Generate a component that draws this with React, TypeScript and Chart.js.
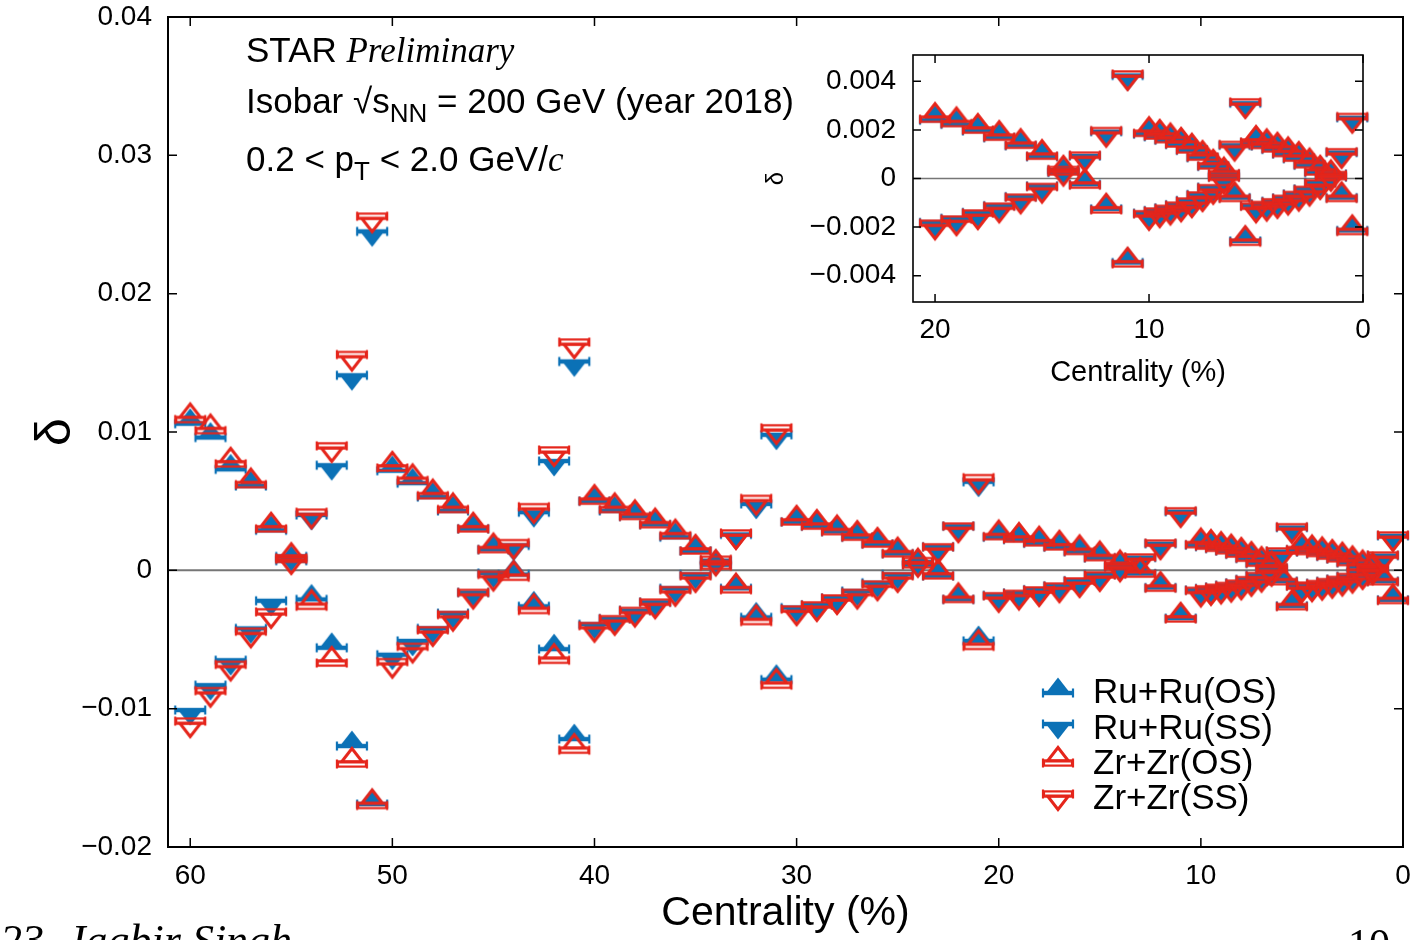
import React, { useEffect, useRef } from 'react';
import { Chart, registerables } from 'chart.js';

Chart.register(...registerables);

const FONT = '"Liberation Sans", Arial, Helvetica, sans-serif';
const SERIF = '"Liberation Serif", "Times New Roman", serif';
const BLUE = '#0b71b6';
const RED = '#e5251b';

// Centrality bins (%)
const centrality = [
  60, 59, 58, 57, 56, 55, 54, 53, 52, 51,
  50, 49, 48, 47, 46, 45, 44, 43, 42, 41,
  40, 39, 38, 37, 36, 35, 34, 33, 32, 31,
  30, 29, 28, 27, 26, 25, 24, 23, 22, 21,
  20, 19, 18, 17, 16, 15, 14, 13, 12, 11,
  10, 9.5, 9, 8.5, 8, 7.5, 7, 6.5, 6, 5.5,
  5, 4.5, 4, 3.5, 3, 2.5, 2, 1.5, 1, 0.5,
];

const ruRuOS = [
  0.0106, 0.0096, 0.0073, 0.0061, 0.0029, 0.0007, -0.0021, -0.0056, -0.0127, -0.0169,
  0.0072, 0.0063, 0.0053, 0.0043, 0.0030, 0.0015, -0.0003, -0.0026, -0.0057, -0.0122,
  0.0050, 0.0043, 0.0039, 0.0033, 0.0024, 0.0014, 0.0004, -0.0013, -0.0034, -0.0079,
  0.0035, 0.0032, 0.0028, 0.0024, 0.0019, 0.0012, 0.0004, -0.0004, -0.0021, -0.0051,
  0.00240, 0.00223, 0.00196, 0.00168, 0.00135, 0.00090, 0.00025, -0.00024, -0.00125, -0.00346,
  0.00183, 0.00172, 0.00158, 0.00140, 0.00116, 0.00086, 0.00050, 0.00018, -0.00079, -0.00257,
  0.00148, 0.00134, 0.00120, 0.00101, 0.00082, 0.00055, 0.00025, 0.00006, -0.00079, -0.00214,
];

const ruRuSS = [
  -0.0101, -0.0083, -0.0065, -0.0042, -0.0022, 0.0010, 0.0040, 0.0076, 0.0141, 0.0245,
  -0.0061, -0.0051, -0.0042, -0.0031, -0.0016, -0.0002, 0.0018, 0.0042, 0.0079, 0.0151,
  -0.0039, -0.0035, -0.0029, -0.0023, -0.0013, -0.0003, 0.0007, 0.0026, 0.0048, 0.0098,
  -0.0027, -0.0025, -0.0020, -0.0015, -0.0009, -0.0003, 0.0006, 0.0017, 0.0032, 0.0064,
  -0.00181, -0.00164, -0.00140, -0.00112, -0.00075, -0.00031, 0.00035, 0.00093, 0.00193, 0.00424,
  -0.00143, -0.00132, -0.00121, -0.00108, -0.00091, -0.00066, -0.00036, 0.00007, 0.00137, 0.00310,
  -0.00112, -0.00105, -0.00094, -0.00080, -0.00064, -0.00043, -0.00016, 0.00018, 0.00107, 0.00250,
];

const zrZrOS = [
  0.0109, 0.0101, 0.0077, 0.0062, 0.0030, 0.0008, -0.0026, -0.0067, -0.0140, -0.0170,
  0.0074, 0.0065, 0.0054, 0.0044, 0.0030, 0.0015, -0.0005, -0.0029, -0.0065, -0.0130,
  0.0050, 0.0044, 0.0039, 0.0033, 0.0025, 0.0014, 0.0003, -0.0014, -0.0037, -0.0083,
  0.0035, 0.0032, 0.0028, 0.0024, 0.0019, 0.0012, 0.0004, -0.0004, -0.0021, -0.0055,
  0.00244, 0.00226, 0.00199, 0.00170, 0.00137, 0.00092, 0.00027, -0.00027, -0.00129, -0.00351,
  0.00186, 0.00175, 0.00160, 0.00142, 0.00118, 0.00088, 0.00052, 0.00020, -0.00082, -0.00262,
  0.00150, 0.00136, 0.00122, 0.00103, 0.00084, 0.00057, 0.00027, 0.00008, -0.00082, -0.00218,
];

const zrZrSS = [
  -0.0109, -0.0087, -0.0068, -0.0044, -0.0030, 0.0009, 0.0042, 0.0090, 0.0156, 0.0256,
  -0.0066, -0.0055, -0.0043, -0.0032, -0.0016, -0.0003, 0.0020, 0.0046, 0.0087, 0.0165,
  -0.0040, -0.0035, -0.0029, -0.0023, -0.0014, -0.0004, 0.0008, 0.0027, 0.0052, 0.0103,
  -0.0028, -0.0025, -0.0020, -0.0016, -0.0010, -0.0004, 0.0007, 0.0017, 0.0032, 0.0067,
  -0.00184, -0.00167, -0.00142, -0.00114, -0.00077, -0.00033, 0.00037, 0.00096, 0.00197, 0.00430,
  -0.00145, -0.00134, -0.00123, -0.00110, -0.00093, -0.00068, -0.00038, 0.00005, 0.00140, 0.00315,
  -0.00114, -0.00107, -0.00096, -0.00082, -0.00066, -0.00045, -0.00018, 0.00016, 0.00110, 0.00255,
];

const mainXTicks = [60, 50, 40, 30, 20, 10, 0];
const mainXTickLabels = ['60', '50', '40', '30', '20', '10', '0'];
const mainYTicks = [-0.02, -0.01, 0, 0.01, 0.02, 0.03, 0.04];
const mainYTickLabels = ['\u22120.02', '\u22120.01', '0', '0.01', '0.02', '0.03', '0.04'];
const insetXTicks = [20, 10, 0];
const insetXTickLabels = ['20', '10', '0'];
const insetYTicks = [-0.004, -0.002, 0, 0.002, 0.004];
const insetYTickLabels = ['\u22120.004', '\u22120.002', '0', '0.002', '0.004'];
const insetMaxCentrality = 20;

const seriesDefs = [
  { label: 'Ru+Ru(OS)', values: ruRuOS, color: BLUE, filled: true, dir: 1, order: 3 },
  { label: 'Ru+Ru(SS)', values: ruRuSS, color: BLUE, filled: true, dir: -1, order: 2 },
  { label: 'Zr+Zr(OS)', values: zrZrOS, color: RED, filled: false, dir: 1, order: 1 },
  { label: 'Zr+Zr(SS)', values: zrZrSS, color: RED, filled: false, dir: -1, order: 0 },
];

function makeGlyph(dir: number, color: string, filled: boolean): HTMLCanvasElement {
  const S = 44;
  const c = document.createElement('canvas');
  c.width = S;
  c.height = S;
  const g = c.getContext('2d') as CanvasRenderingContext2D;
  const cx = S / 2;
  const cy = S / 2;
  g.strokeStyle = color;
  g.fillStyle = color;
  g.lineWidth = 2.2;
  if (filled) g.fillRect(cx - 15, cy - 2.2, 30, 4.4);
  else g.strokeRect(cx - 14, cy - 2.6, 28, 5.2);
  g.beginPath();
  g.moveTo(cx - 15, cy - 4.5);
  g.lineTo(cx - 15, cy + 4.5);
  g.moveTo(cx + 15, cy - 4.5);
  g.lineTo(cx + 15, cy + 4.5);
  g.stroke();
  const baseY = cy - dir * 2;
  const apexY = cy - dir * 15.5;
  g.beginPath();
  g.moveTo(cx - 10.5, baseY);
  g.lineTo(cx + 10.5, baseY);
  g.lineTo(cx, apexY);
  g.closePath();
  if (filled) {
    g.fill();
  } else {
    g.lineWidth = 3;
    g.lineJoin = 'miter';
    g.stroke();
  }
  return c;
}

function GlyphSvg({ dir, color, filled, left, top }: any) {
  const cx = 22;
  const cy = 22;
  const baseY = cy - dir * 2;
  const apexY = cy - dir * 15.5;
  return (
    <svg width={44} height={44} style={{ position: 'absolute', left, top, overflow: 'visible' }}>
      {filled ? (
        <rect x={cx - 15} y={cy - 2.2} width={30} height={4.4} fill={color} />
      ) : (
        <rect x={cx - 14} y={cy - 2.6} width={28} height={5.2} fill="none" stroke={color} strokeWidth={2.2} />
      )}
      <path d={`M${cx - 15} ${cy - 4.5}V${cy + 4.5}M${cx + 15} ${cy - 4.5}V${cy + 4.5}`} stroke={color} strokeWidth={2.2} />
      <polygon
        points={`${cx - 10.5},${baseY} ${cx + 10.5},${baseY} ${cx},${apexY}`}
        fill={filled ? color : 'none'}
        stroke={filled ? 'none' : color}
        strokeWidth={3}
      />
    </svg>
  );
}

const framePlugin = {
  id: 'frame',
  beforeDatasetsDraw(chart: any, _a: any, opts: any) {
    const { ctx, chartArea: a, scales } = chart;
    ctx.save();
    if (opts.fill) {
      ctx.fillStyle = '#ffffff';
      ctx.fillRect(a.left, a.top, a.right - a.left, a.bottom - a.top);
    }
    const y0 = scales.y.getPixelForValue(0);
    ctx.strokeStyle = '#767676';
    ctx.lineWidth = opts.zeroWidth;
    ctx.beginPath();
    ctx.moveTo(a.left, y0);
    ctx.lineTo(a.right, y0);
    ctx.stroke();
    ctx.restore();
  },
  afterDatasetsDraw(chart: any, _a: any, opts: any) {
    const { ctx, chartArea: a, scales } = chart;
    const x = scales.x;
    const y = scales.y;
    const L = opts.tickLength;
    ctx.save();
    ctx.strokeStyle = '#000';
    ctx.lineWidth = opts.tickWidth;
    ctx.beginPath();
    x.ticks.forEach((t: any) => {
      const p = x.getPixelForValue(t.value);
      ctx.moveTo(p, a.bottom);
      ctx.lineTo(p, a.bottom - L);
      ctx.moveTo(p, a.top);
      ctx.lineTo(p, a.top + L);
    });
    y.ticks.forEach((t: any) => {
      const p = y.getPixelForValue(t.value);
      ctx.moveTo(a.left, p);
      ctx.lineTo(a.left + L, p);
      ctx.moveTo(a.right, p);
      ctx.lineTo(a.right - L, p);
    });
    ctx.stroke();
    ctx.lineWidth = opts.lineWidth;
    ctx.strokeRect(a.left, a.top, a.right - a.left, a.bottom - a.top);
    ctx.restore();
  },
};

function zeroPadding(s: any) {
  s.paddingTop = 0;
  s.paddingBottom = 0;
  s.paddingLeft = 0;
  s.paddingRight = 0;
}

function axisOptions(o: any) {
  return {
    x: {
      type: 'linear',
      reverse: true,
      min: o.xMin,
      max: o.xMax,
      afterBuildTicks: (s: any) => {
        s.ticks = o.xTicks.map((v: number) => ({ value: v }));
      },
      afterFit: (s: any) => {
        s.height = o.xHeight;
        zeroPadding(s);
      },
      grid: { display: false, drawTicks: false },
      border: { display: false },
      ticks: {
        autoSkip: false,
        maxRotation: 0,
        minRotation: 0,
        padding: o.xPad,
        color: '#000',
        font: { family: FONT, size: o.tickSize },
        callback: (_v: any, i: number) => o.xLabels[i],
      },
      title: {
        display: true,
        text: 'Centrality (%)',
        color: '#000',
        font: { family: FONT, size: o.xTitleSize },
        padding: { top: 0, bottom: o.xTitlePad },
      },
    },
    y: {
      type: 'linear',
      min: o.yMin,
      max: o.yMax,
      afterBuildTicks: (s: any) => {
        s.ticks = o.yTicks.map((v: number) => ({ value: v }));
      },
      afterFit: (s: any) => {
        s.width = o.yWidth;
        zeroPadding(s);
      },
      grid: { display: false, drawTicks: false },
      border: { display: false },
      ticks: {
        autoSkip: false,
        padding: o.yPad,
        color: '#000',
        font: { family: FONT, size: o.tickSize },
        callback: (_v: any, i: number) => o.yLabels[i],
      },
      title: {
        display: true,
        text: '\u03b4',
        color: '#000',
        font: { family: FONT, size: o.yTitleSize },
        padding: { top: o.yTitlePad, bottom: 0 },
      },
    },
  };
}

const legendRows = [
  { label: 'Ru+Ru(OS)', color: BLUE, filled: true, dir: 1 },
  { label: 'Ru+Ru(SS)', color: BLUE, filled: true, dir: -1 },
  { label: 'Zr+Zr(OS)', color: RED, filled: false, dir: 1 },
  { label: 'Zr+Zr(SS)', color: RED, filled: false, dir: -1 },
];

export default function App() {
  const mainRef = useRef<HTMLCanvasElement>(null);
  const insetRef = useRef<HTMLCanvasElement>(null);

  useEffect(() => {
    const glyphs = seriesDefs.map((s) => makeGlyph(s.dir, s.color, s.filled));
    const mkData = (limit: number) =>
      seriesDefs.map((s, k) => ({
        label: s.label,
        data: centrality.map((c, i) => ({ x: c, y: s.values[i] })).filter((p) => p.x <= limit),
        pointStyle: glyphs[k],
        pointRadius: 16,
        pointHoverRadius: 16,
        showLine: false,
        clip: false,
        order: s.order,
      }));

    const main = new Chart(mainRef.current as HTMLCanvasElement, {
      type: 'scatter',
      data: { datasets: mkData(100) as any },
      options: {
        responsive: false,
        animation: false,
        devicePixelRatio: 1,
        events: [],
        layout: { autoPadding: false, padding: { left: 0, right: 13, top: 17, bottom: 0 } },
        plugins: {
          legend: { display: false },
          tooltip: { enabled: false },
          frame: { tickLength: 9, tickWidth: 1.5, lineWidth: 2, zeroWidth: 2, fill: false },
        } as any,
        scales: axisOptions({
          xMin: 0, xMax: 61.1, xTicks: mainXTicks, xLabels: mainXTickLabels, xHeight: 93, xPad: 12,
          yMin: -0.02, yMax: 0.04, yTicks: mainYTicks, yLabels: mainYTickLabels, yWidth: 168, yPad: 16,
          tickSize: 28, xTitleSize: 41, xTitlePad: 2, yTitleSize: 50, yTitlePad: 26,
        }) as any,
      },
      plugins: [framePlugin],
    });

    const inset = new Chart(insetRef.current as HTMLCanvasElement, {
      type: 'scatter',
      data: { datasets: mkData(insetMaxCentrality) as any },
      options: {
        responsive: false,
        animation: false,
        devicePixelRatio: 1,
        events: [],
        layout: { autoPadding: false, padding: { left: 0, right: 37, top: 17, bottom: 0 } },
        plugins: {
          legend: { display: false },
          tooltip: { enabled: false },
          frame: { tickLength: 8, tickWidth: 1.5, lineWidth: 1.6, zeroWidth: 1.6, fill: true },
        } as any,
        scales: axisOptions({
          xMin: 0, xMax: 21.03, xTicks: insetXTicks, xLabels: insetXTickLabels, xHeight: 98, xPad: 11,
          yMin: -0.00508, yMax: 0.00508, yTicks: insetYTicks, yLabels: insetYTickLabels, yWidth: 173, yPad: 17,
          tickSize: 28, xTitleSize: 29, xTitlePad: 9.6, yTitleSize: 24, yTitlePad: 22,
        }) as any,
      },
      plugins: [framePlugin],
    });

    return () => {
      main.destroy();
      inset.destroy();
    };
  }, []);

  const textLine: React.CSSProperties = {
    position: 'absolute',
    left: 246,
    fontFamily: FONT,
    fontSize: 35,
    lineHeight: '35px',
    whiteSpace: 'nowrap',
    color: '#000',
  };
  const sub: React.CSSProperties = { fontSize: 26, position: 'relative', top: 9 };
  const legendTop = 690.5;
  const legendStep = 35.3;

  return (
    <div
      style={{
        position: 'fixed',
        left: 0,
        top: 0,
        width: 1416,
        height: 940,
        overflow: 'hidden',
        background: '#fff',
      }}
    >
      <canvas
        ref={mainRef}
        width={1416}
        height={940}
        style={{ position: 'absolute', left: 0, top: 0, width: 1416, height: 940 }}
      />
      <canvas
        ref={insetRef}
        width={660}
        height={362}
        style={{ position: 'absolute', left: 740, top: 38, width: 660, height: 362 }}
      />

      <div style={{ ...textLine, top: 32.4 }}>
        STAR <span style={{ fontFamily: SERIF, fontStyle: 'italic' }}>Preliminary</span>
      </div>
      <div style={{ ...textLine, top: 83.4 }}>
        Isobar {'\u221a'}s<span style={sub}>NN</span> = 200 GeV (year 2018)
      </div>
      <div style={{ ...textLine, top: 141.4 }}>
        0.2 &lt; p<span style={sub}>T</span> &lt; 2.0 GeV/
        <span style={{ fontFamily: SERIF, fontStyle: 'italic' }}>c</span>
      </div>

      {legendRows.map((r, i) => {
        const rc = legendTop + i * legendStep;
        const boxCenter = rc + (r.dir === 1 ? 2 : -2);
        return (
          <React.Fragment key={r.label}>
            <GlyphSvg dir={r.dir} color={r.color} filled={r.filled} left={1035.5} top={boxCenter - 22} />
            <div
              style={{
                position: 'absolute',
                left: 1093,
                top: rc - 17.1,
                fontFamily: FONT,
                fontSize: 35,
                lineHeight: '35px',
                whiteSpace: 'nowrap',
                color: '#000',
              }}
            >
              {r.label}
            </div>
          </React.Fragment>
        );
      })}

      <div
        style={{
          position: 'absolute',
          left: 0,
          top: 919,
          fontFamily: SERIF,
          fontStyle: 'italic',
          fontSize: 44,
          lineHeight: '44px',
          whiteSpace: 'nowrap',
          color: '#000',
        }}
      >
        23&nbsp;&nbsp;Jagbir Singh
      </div>
      <div
        style={{
          position: 'absolute',
          left: 1348,
          top: 923,
          fontFamily: SERIF,
          fontSize: 42,
          lineHeight: '42px',
          whiteSpace: 'nowrap',
          color: '#000',
        }}
      >
        10
      </div>
    </div>
  );
}
